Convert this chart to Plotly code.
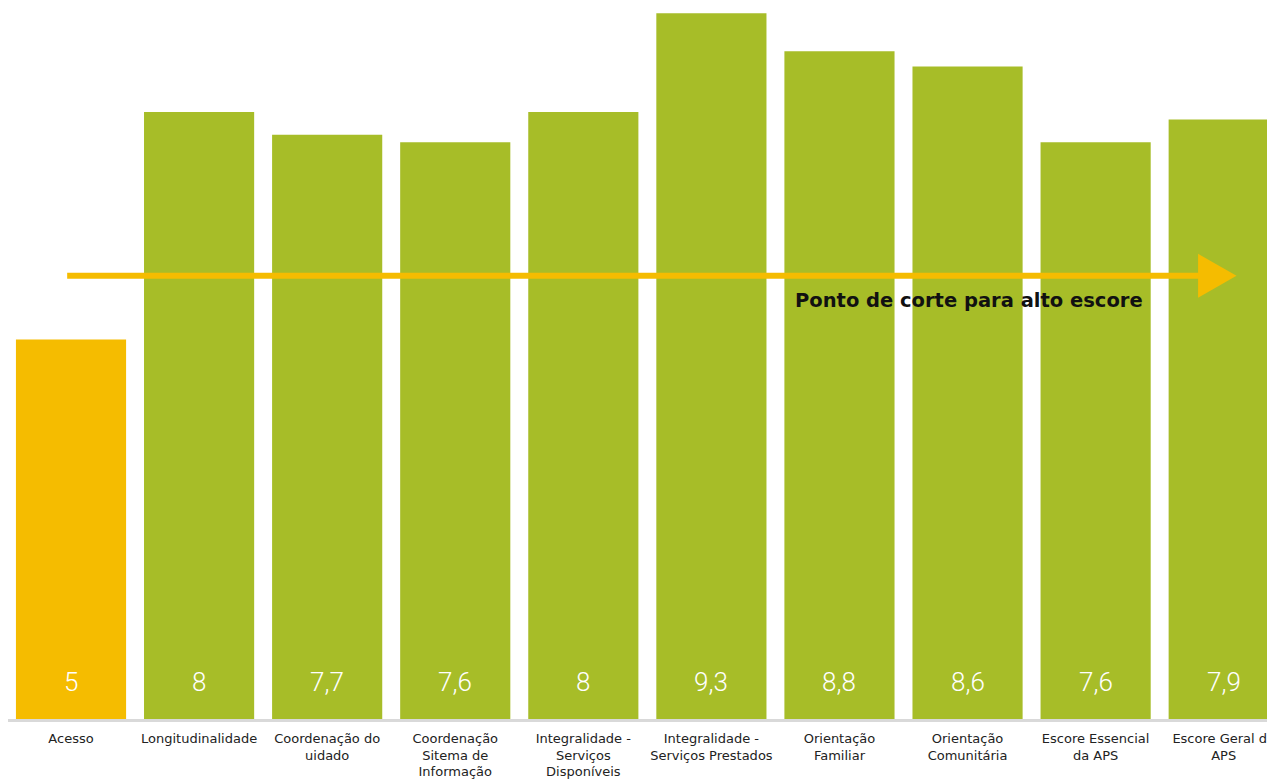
import plotly.graph_objects as go

categories = [
    "Acesso", "Longitudinalidade", "Coordenação do<br>uidado",
    "Coordenação<br>Sitema de<br>Informação", "Integralidade -<br>Serviços<br>Disponíveis",
    "Integralidade -<br>Serviços Prestados", "Orientação<br>Familiar",
    "Orientação<br>Comunitária", "Escore Essencial<br>da APS", "Escore Geral da<br>APS",
]
values = [5, 8, 7.7, 7.6, 8, 9.3, 8.8, 8.6, 7.6, 7.9]
bar_colors = ["#F5BC00"] + ["#A7BD28"] * 9
cutoff = 5.84
cutoff_label = "Ponto de corte para alto escore"

xs = list(range(len(categories)))
fig = go.Figure()
fig.add_trace(go.Bar(x=xs, y=values, marker=dict(color=bar_colors, line=dict(width=0)),
                     width=0.86, hoverinfo="skip"))

for x, v in zip(xs, values):
    fig.add_annotation(x=x, y=0, xref="x", yref="y", text=f"{v:g}".replace(".", ","),
                       showarrow=False, yanchor="bottom", yshift=20,
                       font=dict(family="Roboto", size=26, color="white", weight=300))

# cutoff arrow
fig.add_shape(type="line", xref="x", yref="y", x0=-0.03, x1=8.82, y0=cutoff, y1=cutoff,
              line=dict(color="#F5BC00", width=6), layer="above")
fig.add_shape(type="path", xref="x", yref="y",
              path=f"M 8.80 {cutoff+0.29} L 9.10 {cutoff} L 8.80 {cutoff-0.29} Z",
              fillcolor="#F5BC00", line=dict(width=0), layer="above")
fig.add_annotation(x=5.64, y=cutoff - 0.32, xref="x", yref="y", text=cutoff_label,
                   showarrow=False, xanchor="left", yanchor="middle",
                   font=dict(family="DejaVu Sans", size=19.5, color="#111", weight="bold"))

fig.update_layout(
    width=1275, height=772,
    margin=dict(l=0, r=0, t=0, b=61),
    paper_bgcolor="white", plot_bgcolor="white",
    showlegend=False,
    xaxis=dict(range=[-0.492, 9.463], tickmode="array", tickvals=xs, ticktext=categories,
               showgrid=False, zeroline=False, showline=True, linecolor="#D9D9D9", linewidth=3,
               ticks="", ticklabelstandoff=5,
               tickfont=dict(family="DejaVu Sans, sans-serif", size=13, color="#222")),
    yaxis=dict(range=[0, 9.37], visible=False, showgrid=False, zeroline=False),
)

fig.write_html("out.html")
